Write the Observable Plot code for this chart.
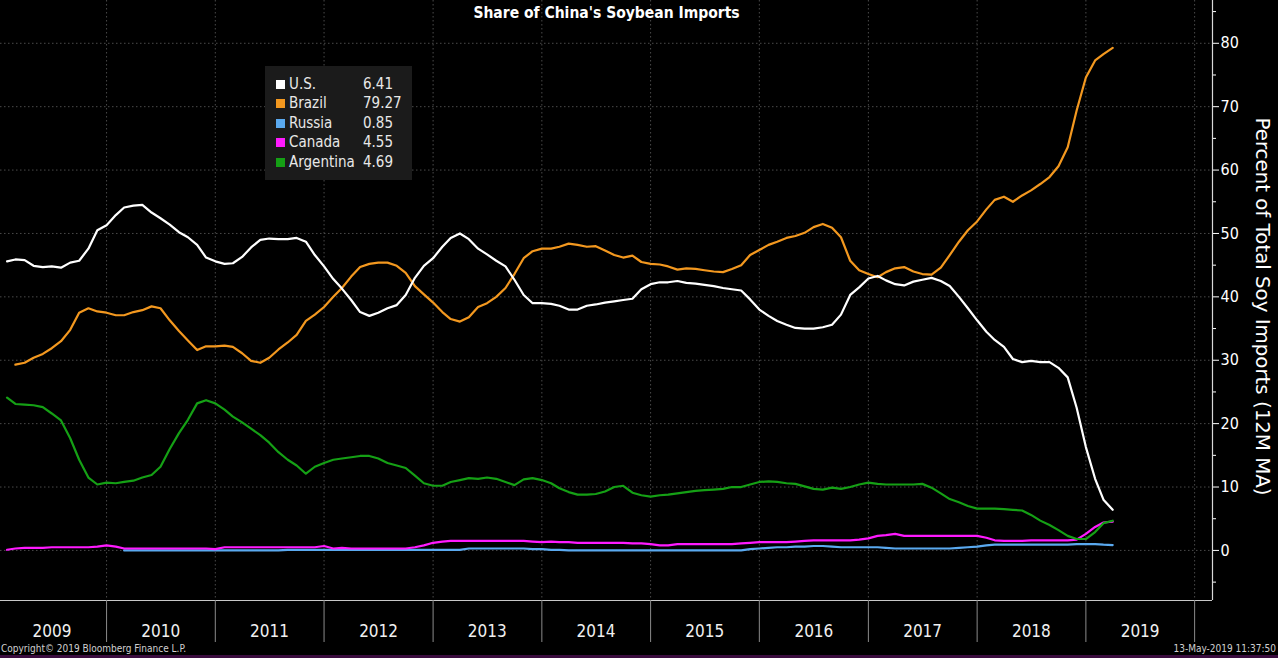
<!DOCTYPE html>
<html>
<head>
<meta charset="utf-8">
<script src="https://cdn.jsdelivr.net/npm/d3@7"></script>
<script src="https://cdn.jsdelivr.net/npm/@observablehq/plot@0.6"></script>
<style>
  html, body { margin: 0; padding: 0; background: #000; }
  body { width: 1278px; height: 658px; overflow: hidden; font-family: "DejaVu Sans Condensed", "DejaVu Sans", sans-serif; color: #fff; }
  #wrap { position: relative; width: 1278px; height: 658px; }
  #legend { position: absolute; left: 265px; top: 66px; width: 147px; height: 114px; background: #1b1b1b; font-size: 15px; }
  #legend .row { position: absolute; left: 11px; height: 19px; line-height: 19px; white-space: nowrap; }
  #legend .sw { position: absolute; left: 0; top: 5px; width: 9px; height: 9px; }
  #legend .nm { position: absolute; left: 13px; color: #e8e8e8; }
  #legend .vl { position: absolute; left: 87px; color: #e8e8e8; }
  #foot { position: absolute; left: 0; top: 643px; width: 1278px; height: 12px; font-size: 10px; color: #d0d0d0; line-height: 12px; }
  #foot .l { position: absolute; left: 1px; }
  #foot .r { position: absolute; right: 2px; }
  #strip { position: absolute; left: 0; top: 655px; width: 1278px; height: 3px; background: #3a0c3e; }
</style>
</head>
<body>
<div id="wrap">
  <div id="chart"></div>
  <div id="legend"></div>
  <div id="foot"><span class="l"></span><span class="r"></span></div>
  <div id="strip"></div>
</div>
<script>
// ---- Data (monthly 12M moving average, % share of China's soybean imports) ----
const title = "Share of China's Soybean Imports";
const yLabel = "Percent of Total Soy Imports (12M MA)";
const copyright = "Copyright\u00A9 2019 Bloomberg Finance L.P.";
const stamp = "13-May-2019 11:37:50";
const firstMonth = "2009-01"; // first monthly observation (plotted at month end)

const seriesNames = ["U.S.", "Brazil", "Russia", "Canada", "Argentina"];
const seriesColors = ["#ffffff", "#f3981f", "#5aa9ef", "#ff1aff", "#15a015"];
const lastValues = ["6.41", "79.27", "0.85", "4.55", "4.69"];

const usValues = [
  45.6, 45.9, 45.8, 44.9, 44.7, 44.8, 44.6, 45.4, 45.7, 47.6,
  50.5, 51.3, 52.9, 54.1, 54.4, 54.5, 53.3, 52.4, 51.4, 50.2,
  49.4, 48.2, 46.2, 45.6, 45.2, 45.3, 46.3, 47.8, 49.0, 49.2,
  49.1, 49.1, 49.3, 48.7, 46.6, 44.8, 42.8, 41.3, 39.5, 37.6,
  37.0, 37.5, 38.2, 38.7, 40.3, 43.0, 44.9, 46.1, 47.9, 49.3,
  50.0, 49.1, 47.6, 46.7, 45.7, 44.8, 42.7, 40.3, 39.0, 39.0,
  38.9, 38.6, 38.0, 38.0, 38.6, 38.8, 39.1, 39.3, 39.5, 39.7,
  41.2, 42.0, 42.3, 42.3, 42.5, 42.2, 42.1, 41.9, 41.7, 41.4,
  41.2, 41.0, 39.6, 38.0, 37.0, 36.2, 35.6, 35.1, 35.0, 35.0,
  35.2, 35.6, 37.2, 40.3, 41.5, 42.9, 43.3, 42.6, 42.0, 41.8,
  42.4, 42.7, 43.0, 42.5, 41.7, 40.0, 38.2, 36.3, 34.5, 33.2,
  32.1, 30.2, 29.7, 29.9, 29.7, 29.7, 28.8, 27.3, 22.5, 16.3,
  11.3, 8.0, 6.41
];
const brazilValues = [
  null, 29.3, 29.6, 30.4, 31.0, 31.9, 33.0, 34.8, 37.5, 38.2,
  37.7, 37.5, 37.1, 37.1, 37.6, 37.9, 38.5, 38.2, 36.3, 34.6,
  33.1, 31.6, 32.2, 32.2, 32.3, 32.1, 31.1, 29.9, 29.6, 30.4,
  31.7, 32.8, 34.0, 36.2, 37.2, 38.4, 40.0, 41.4, 43.2, 44.7,
  45.2, 45.4, 45.4, 44.9, 43.8, 41.7, 40.4, 39.1, 37.6, 36.5,
  36.1, 36.8, 38.4, 39.0, 40.0, 41.4, 43.6, 46.1, 47.2, 47.6,
  47.6, 47.9, 48.4, 48.2, 47.9, 48.0, 47.3, 46.6, 46.2, 46.5,
  45.5, 45.2, 45.1, 44.8, 44.3, 44.5, 44.4, 44.2, 44.0, 43.9,
  44.4, 45.0, 46.6, 47.4, 48.2, 48.7, 49.3, 49.6, 50.1, 51.0,
  51.5, 50.9, 49.4, 45.7, 44.2, 43.6, 43.1, 43.9, 44.5, 44.7,
  44.0, 43.6, 43.5, 44.6, 46.6, 48.7, 50.5, 51.9, 53.8, 55.3,
  55.8, 55.0, 56.0, 56.8, 57.8, 58.9, 60.6, 63.6, 69.4, 74.6,
  77.3, 78.3, 79.27
];
const russiaValues = [
  null, null, null, null, null, null, null, null, null, null,
  null, null, null, 0.0, 0.0, 0.0, 0.0, 0.0, 0.0, 0.0,
  0.0, 0.0, 0.0, 0.0, 0.0, 0.0, 0.0, 0.0, 0.0, 0.0,
  0.0, 0.1, 0.1, 0.1, 0.1, 0.1, 0.1, 0.1, 0.1, 0.1,
  0.1, 0.1, 0.1, 0.1, 0.1, 0.1, 0.1, 0.1, 0.1, 0.1,
  0.1, 0.3, 0.3, 0.3, 0.3, 0.3, 0.3, 0.3, 0.2, 0.2,
  0.1, 0.1, 0.0, 0.0, 0.0, 0.0, 0.0, 0.0, 0.0, 0.0,
  0.0, 0.0, 0.0, 0.0, 0.0, 0.0, 0.0, 0.0, 0.0, 0.0,
  0.0, 0.0, 0.2, 0.3, 0.4, 0.5, 0.5, 0.6, 0.6, 0.7,
  0.7, 0.6, 0.5, 0.5, 0.5, 0.5, 0.5, 0.4, 0.3, 0.3,
  0.3, 0.3, 0.3, 0.3, 0.3, 0.4, 0.5, 0.6, 0.8, 0.9,
  0.9, 0.9, 0.9, 0.9, 0.9, 0.9, 0.9, 0.9, 1.0, 1.0,
  1.0, 0.9, 0.85
];
const canadaValues = [
  0.1, 0.3, 0.4, 0.4, 0.4, 0.5, 0.5, 0.5, 0.5, 0.5,
  0.6, 0.8, 0.6, 0.3, 0.3, 0.3, 0.3, 0.3, 0.3, 0.3,
  0.3, 0.3, 0.3, 0.2, 0.5, 0.5, 0.5, 0.5, 0.5, 0.5,
  0.5, 0.5, 0.5, 0.5, 0.5, 0.7, 0.3, 0.4, 0.3, 0.3,
  0.3, 0.3, 0.3, 0.3, 0.3, 0.5, 0.8, 1.2, 1.4, 1.5,
  1.5, 1.5, 1.5, 1.5, 1.5, 1.5, 1.5, 1.5, 1.4, 1.3,
  1.4, 1.3, 1.3, 1.2, 1.2, 1.2, 1.2, 1.2, 1.2, 1.1,
  1.1, 1.0, 0.8, 0.8, 1.0, 1.0, 1.0, 1.0, 1.0, 1.0,
  1.0, 1.1, 1.2, 1.3, 1.3, 1.3, 1.3, 1.4, 1.5, 1.6,
  1.6, 1.6, 1.6, 1.6, 1.7, 1.9, 2.3, 2.4, 2.6, 2.3,
  2.3, 2.3, 2.3, 2.3, 2.3, 2.3, 2.3, 2.3, 2.0, 1.6,
  1.5, 1.5, 1.5, 1.6, 1.6, 1.6, 1.6, 1.6, 1.7, 2.6,
  3.7, 4.4, 4.55
];
const argentinaValues = [
  24.1, 23.1, 23.0, 22.9, 22.6, 21.6, 20.5, 17.7, 14.3, 11.5,
  10.4, 10.7, 10.6, 10.8, 11.0, 11.5, 11.9, 13.2, 16.0, 18.5,
  20.6, 23.2, 23.7, 23.2, 22.2, 21.1, 20.2, 19.2, 18.2, 17.0,
  15.5, 14.3, 13.4, 12.1, 13.2, 13.8, 14.3, 14.5, 14.7, 14.9,
  14.9, 14.5, 13.8, 13.4, 13.0, 11.8, 10.6, 10.2, 10.2, 10.8,
  11.1, 11.4, 11.3, 11.5, 11.3, 10.8, 10.3, 11.2, 11.4, 11.1,
  10.6, 9.8, 9.2, 8.8, 8.8, 8.9, 9.3, 10.0, 10.2, 9.1,
  8.7, 8.5, 8.7, 8.8, 9.0, 9.2, 9.4, 9.5, 9.6, 9.7,
  10.0, 10.0, 10.4, 10.8, 10.9, 10.8, 10.6, 10.5, 10.1, 9.7,
  9.6, 9.9, 9.7, 10.0, 10.4, 10.7, 10.5, 10.4, 10.4, 10.4,
  10.4, 10.5, 9.9, 9.0, 8.1, 7.6, 7.0, 6.6, 6.6, 6.6,
  6.5, 6.4, 6.3, 5.6, 4.7, 4.0, 3.2, 2.3, 1.8, 1.8,
  2.9, 4.3, 4.69
];

const yTicks = [0, 10, 20, 30, 40, 50, 60, 70, 80];
const yMinorTicks = [-5, 5, 15, 25, 35, 45, 55, 65, 75, 85];
const yearLabels = [2009, 2010, 2011, 2012, 2013, 2014, 2015, 2016, 2017, 2018, 2019];
const yearBounds = [2010, 2011, 2012, 2013, 2014, 2015, 2016, 2017, 2018, 2019, 2020];

// ---- Build table ----
const start = d3.utcParse("%Y-%m")(firstMonth);
const allValues = [usValues, brazilValues, russiaValues, canadaValues, argentinaValues];
const rows = [];
allValues.forEach((vals, s) => {
  vals.forEach((v, i) => {
    rows.push({series: seriesNames[s], date: d3.utcMonth.offset(start, i + 1), value: v});
  });
});

const xDomain = [new Date(Date.UTC(2009, 0, 10)), new Date(Date.UTC(2020, 2, 1))];
const yDomain = [-7.9, 86.75];
const yearDate = (y) => new Date(Date.UTC(y, 0, 1));
const midYear = (y) => new Date(Date.UTC(y, 6, 2));
const blank = () => "";

const drawOrder = ["Russia", "Canada", "Argentina", "Brazil", "U.S."];
const lineMarks = drawOrder.map((name) => {
  const k = seriesNames.indexOf(name);
  return Plot.line(rows.filter((d) => d.series === name), {
    x: "date", y: "value", stroke: seriesColors[k], strokeWidth: 2.2, curve: "linear"
  });
});

const chart = Plot.plot({
  width: 1278,
  height: 646,
  marginTop: 0,
  marginBottom: 46,
  marginLeft: 0,
  marginRight: 66,
  style: {background: "#000", color: "#fff", fontFamily: "'DejaVu Sans Condensed', 'DejaVu Sans', sans-serif", overflow: "visible"},
  x: {type: "utc", domain: xDomain, axis: null},
  y: {domain: yDomain, axis: null},
  marks: [
    Plot.ruleY(yTicks, {stroke: "#4a4a4a", strokeDasharray: "1.5,2.5", strokeWidth: 1}),
    Plot.ruleX(yearBounds.map(yearDate), {stroke: "#4a4a4a", strokeDasharray: "1.5,2.5", strokeWidth: 1}),
    ...lineMarks,
    Plot.ruleY([yDomain[0]], {stroke: "#c8c8c8", strokeWidth: 1.2}),
    Plot.ruleX([xDomain[1]], {stroke: "#d8d8d8", strokeWidth: 1.2}),
    Plot.axisY(yMinorTicks, {anchor: "right", tickSize: 3, tickFormat: blank, stroke: "#fff", label: null}),
    Plot.axisY(yTicks, {anchor: "right", tickSize: 6, tickPadding: 2, fontSize: 16, stroke: "#fff", fill: "#fff", label: null}),
    Plot.axisX(yearBounds.map(yearDate), {anchor: "bottom", tickSize: 42, tickFormat: blank, stroke: "#8a8a8a", label: null}),
    Plot.axisX(yearLabels.map(midYear), {anchor: "bottom", tickSize: 0, tickPadding: 24, fontSize: 17, fill: "#f0f0f0", tickFormat: (d) => String(d.getUTCFullYear()), label: null}),
    Plot.text([title], {frameAnchor: "top", dy: 6, fontWeight: "bold", fontSize: 15.5, fill: "#fff", lineAnchor: "top"}),
    Plot.text([yLabel], {frameAnchor: "right", dx: 50, dy: 6, rotate: 90, textAnchor: "middle", lineAnchor: "middle", fontSize: 19.8, fontFamily: "'DejaVu Sans', sans-serif", fill: "#fff"})
  ]
});
document.getElementById("chart").appendChild(chart);

// ---- Legend ----
const legend = document.getElementById("legend");
seriesNames.forEach((name, k) => {
  const row = document.createElement("div");
  row.className = "row";
  row.style.top = (9 + k * 19.4) + "px";
  row.innerHTML = `<span class="sw" style="background:${seriesColors[k]}"></span><span class="nm">${name}</span><span class="vl">${lastValues[k]}</span>`;
  legend.appendChild(row);
});

document.querySelector("#foot .l").textContent = copyright;
document.querySelector("#foot .r").textContent = stamp;
</script>
</body>
</html>
